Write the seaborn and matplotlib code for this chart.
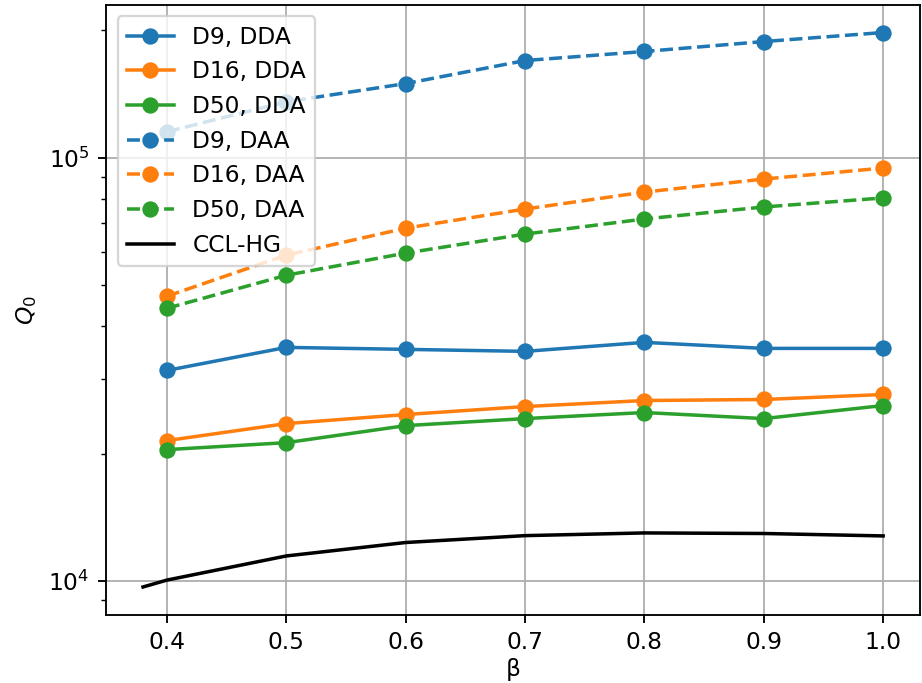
import numpy as np
import pandas as pd
import matplotlib
matplotlib.use("Agg")
import matplotlib.pyplot as plt
import seaborn as sns

# beta values
beta = [0.4, 0.5, 0.6, 0.7, 0.8, 0.9, 1.0]

# Q0 values
d9_dda = [31450, 35650, 35270, 34890, 36640, 35460, 35460]
d16_dda = [21470, 23550, 24740, 25840, 26700, 26850, 27590]
d50_dda = [20440, 21230, 23290, 24200, 25010, 24200, 25980]
d9_daa = [115250, 135700, 149800, 169800, 178400, 188300, 197800]
d16_daa = [47100, 58900, 68200, 75700, 83000, 89100, 94600]
d50_daa = [44100, 52800, 59550, 66050, 71700, 76550, 80400]

# CCL-HG reference curve
ccl_beta = [0.38, 0.4, 0.5, 0.6, 0.7, 0.8, 0.9, 1.0]
ccl_q0 = [9680, 10050, 11460, 12330, 12800, 12990, 12950, 12780]

dpi = 168
fig = plt.figure(figsize=(922 / dpi, 683 / dpi), dpi=dpi)
ax = fig.add_axes([0.115, 0.1, 0.883, 0.893])

colors = sns.color_palette("tab10", 3)

series = [
    ("D9, DDA", d9_dda, colors[0], "-"),
    ("D16, DDA", d16_dda, colors[1], "-"),
    ("D50, DDA", d50_dda, colors[2], "-"),
    ("D9, DAA", d9_daa, colors[0], "--"),
    ("D16, DAA", d16_daa, colors[1], "--"),
    ("D50, DAA", d50_daa, colors[2], "--"),
]

for name, vals, c, ls in series:
    sns.lineplot(x=beta, y=vals, ax=ax, color=c, linestyle=ls, marker="o",
                 markersize=6, markeredgecolor=c, markeredgewidth=1,
                 linewidth=1.5, label=name)

sns.lineplot(x=ccl_beta, y=ccl_q0, ax=ax, color="black", linewidth=1.5,
             label="CCL-HG")

ax.set_yscale("log")
ax.grid(True)
ax.set_xlabel("β", labelpad=1.5)
ax.set_ylabel("$Q_0$")
ax.legend(loc="upper left")

fig.savefig("out.png", dpi=dpi)
